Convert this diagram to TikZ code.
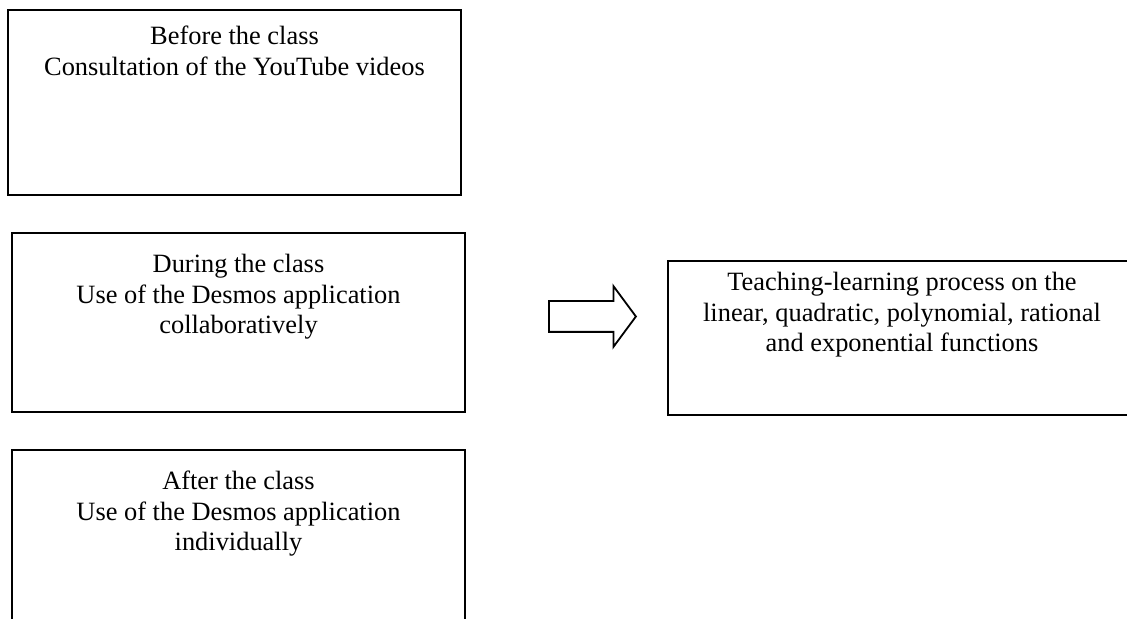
\documentclass[tikz,border=0pt]{standalone}
\usepackage{fontspec}
\setmainfont{Liberation Serif}
\usetikzlibrary{positioning,shapes.arrows}

\begin{document}
\begin{tikzpicture}[x=0.5pt,y=-0.5pt,
    stage/.style={draw,line width=1pt,inner sep=0pt,minimum width=226.5pt},
    caption/.style={align=center,inner sep=0pt,font=\fontsize{13.2}{15.2}\selectfont},
    bigarrow/.style={draw,line width=0.9pt,single arrow,inner xsep=0pt,inner ysep=7.25pt,
        minimum height=43.5pt,single arrow head extend=7.5pt,single arrow tip angle=107}]
    \useasboundingbox (0,0) rectangle (1127,619);
    \clip (0,0) rectangle (1127,619);

    % the three moments of the class
    \node[stage,minimum height=92.5pt] (before) at (234.5,102.5) {};
    \node[caption,below=8.5pt of before.north] (beforetxt) {Before the class\\Consultation of the YouTube videos};

    \node[stage,minimum height=89.5pt] (during) at (238.5,322.5) {};
    \node[caption,below=11pt of during.north] (duringtxt) {During the class\\Use of the Desmos application\\collaboratively};

    \node[stage,minimum height=100pt] (after) at (238.5,550) {};
    \node[caption,below=11pt of after.north] (aftertxt) {After the class\\Use of the Desmos application\\individually};

    % result
    \node[stage,minimum width=234pt,minimum height=77pt] (process) at (902,338) {};
    \node[caption,below=6pt of process.north] (processtxt) {Teaching-learning process on the\\linear, quadratic, polynomial, rational\\and exponential functions};

    \node[bigarrow,anchor=tail] (go) at (548,316.5) {};
\end{tikzpicture}
\end{document}
